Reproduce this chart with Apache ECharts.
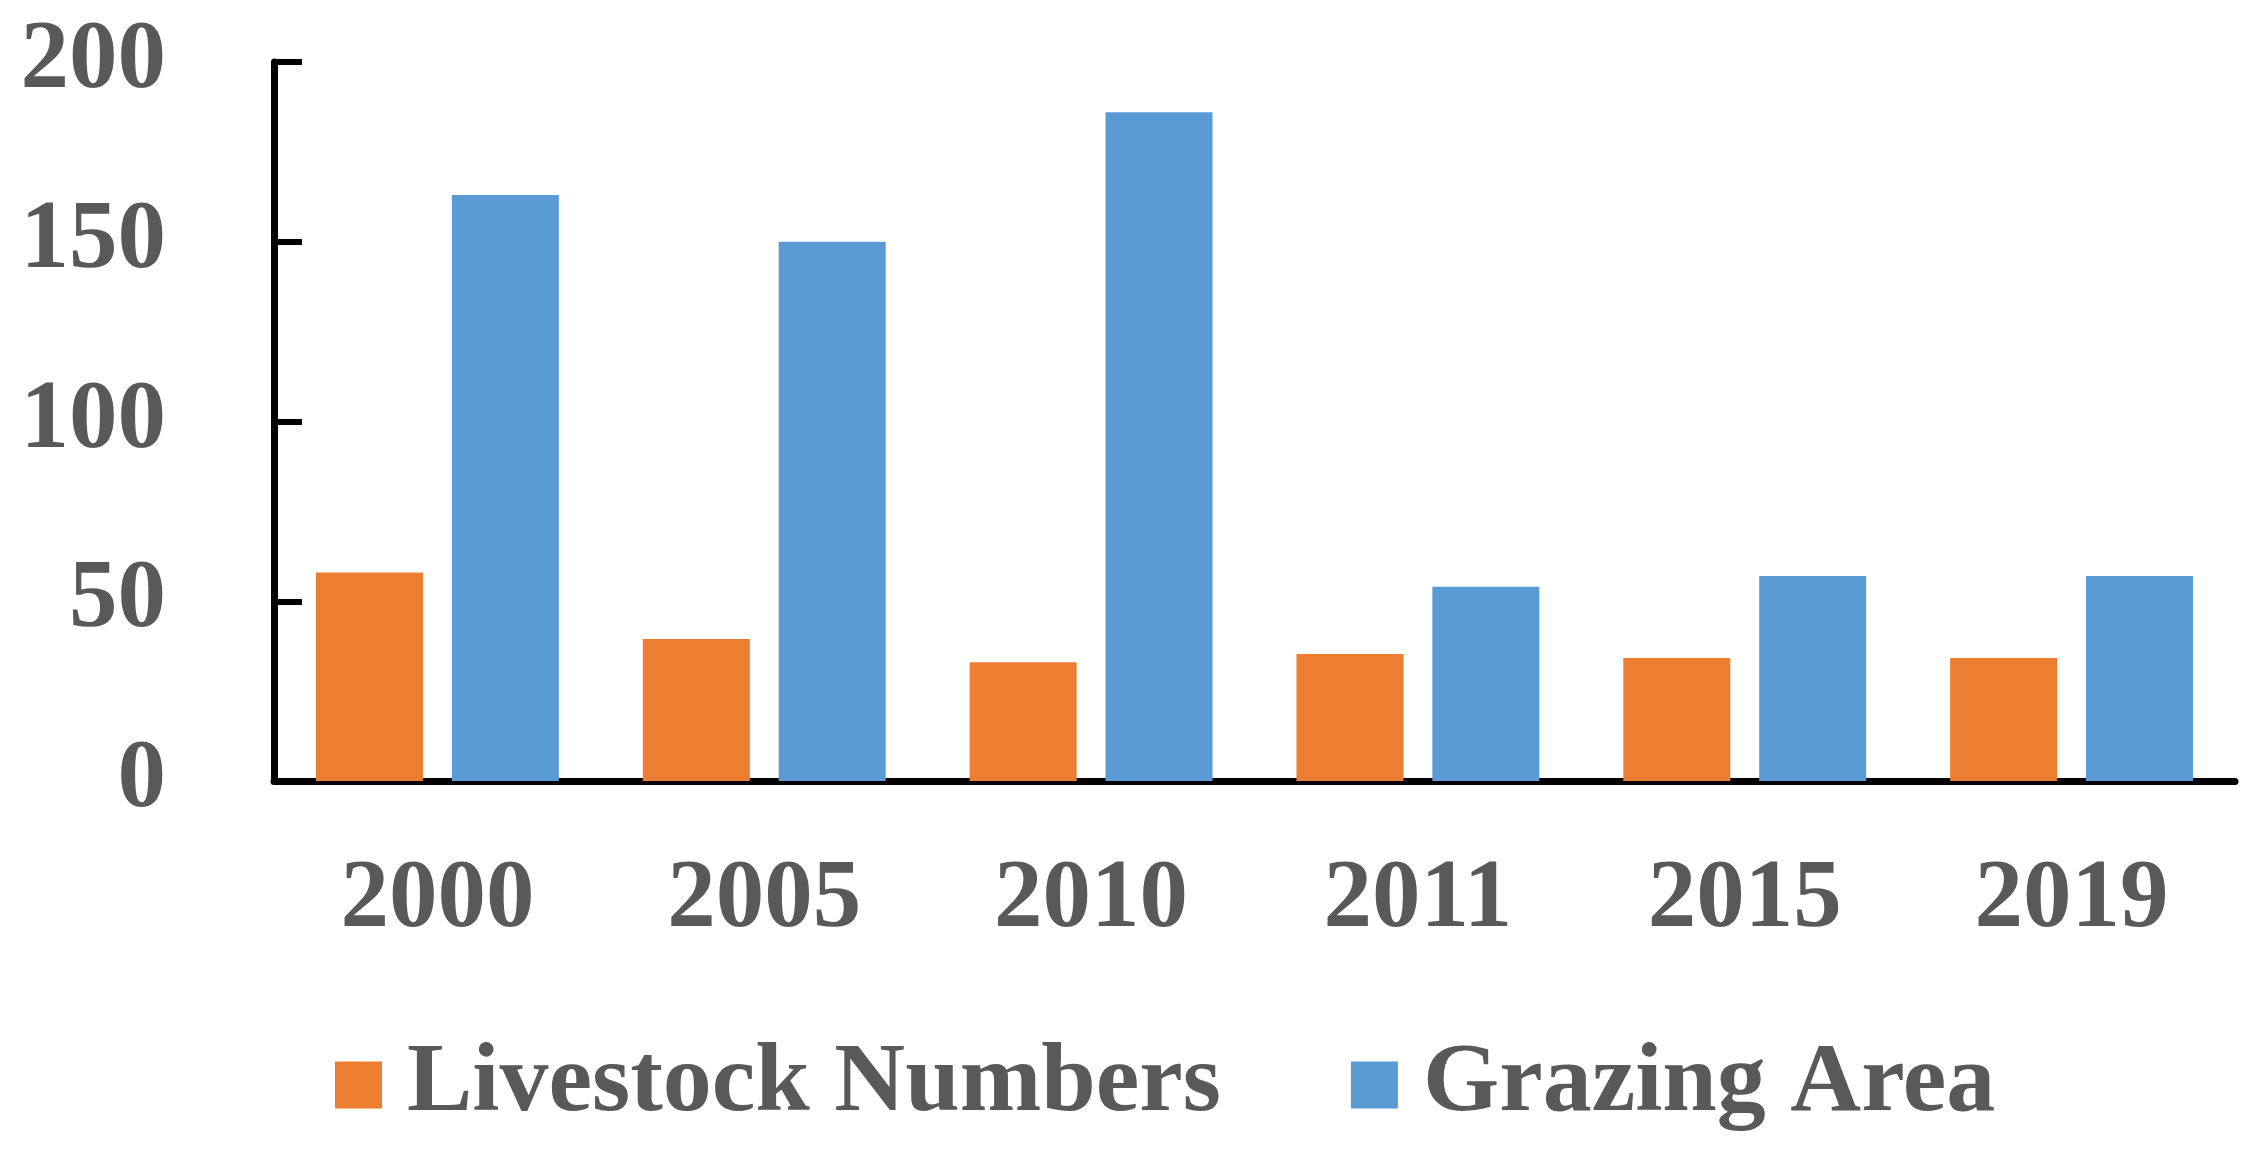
<!DOCTYPE html>
<html>
<head>
<meta charset="utf-8">
<script src="https://cdn.jsdelivr.net/npm/echarts@6/dist/echarts.min.js"></script>
<style>
  html, body { margin: 0; padding: 0; background: #fff; }
  #chart { width: 2262px; height: 1150px; }
</style>
</head>
<body>
<div id="chart"></div>
<script>
const years = ["2000", "2005", "2010", "2011", "2015", "2019"];
const livestock = [58, 39.5, 33, 35.3, 34.2, 34.2];
const grazing = [163, 150, 186, 54, 57, 57];
const yTicks = { min: 0, max: 200, interval: 50 };

const font = "Liberation Serif";
const grey = "#595959";

const chart = echarts.init(document.getElementById("chart"));

const option = {
  animation: false,
  backgroundColor: "#fff",
  grid: {
    left: 274,
    right: 27,
    top: 62,
    bottom: 369,
  },
  legend: {
    left: 330,
    top: 1030,
    itemWidth: 47,
    itemHeight: 47,
    itemGap: 130,
    icon: "rect",
    textStyle: {
      fontFamily: font,
      fontWeight: "bold",
      fontSize: 98,
      color: grey,
      lineHeight: 100,
      padding: [0, 0, 0, 20],
    },
  },
  xAxis: {
    type: "category",
    data: years,
    axisLine: { lineStyle: { color: "#000", width: 7 } },
    axisTick: { inside: true, length: 28, lineStyle: { color: "#000", width: 6 } },
    axisLabel: {
      margin: 71,
      fontFamily: font,
      fontWeight: "bold",
      fontSize: 97,
      lineHeight: 97,
      color: grey,
    },
  },
  yAxis: {
    type: "value",
    min: yTicks.min,
    max: yTicks.max,
    interval: yTicks.interval,
    splitLine: { show: false },
    axisLine: { show: true, lineStyle: { color: "#000", width: 7 } },
    axisTick: { show: true, inside: true, length: 28, lineStyle: { color: "#000", width: 6 } },
    axisLabel: {
      margin: 108,
      fontFamily: font,
      fontWeight: "bold",
      fontSize: 97,
      color: grey,
    },
  },
  series: [
    {
      name: "Livestock Numbers",
      type: "bar",
      data: livestock,
      barWidth: 107,
      barGap: "27%",
      itemStyle: { color: "#ED7D31" },
    },
    {
      name: "Grazing Area",
      type: "bar",
      data: grazing,
      barWidth: 107,
      itemStyle: { color: "#5B9BD5" },
    },
  ],
};

chart.setOption(option);
</script>
</body>
</html>
